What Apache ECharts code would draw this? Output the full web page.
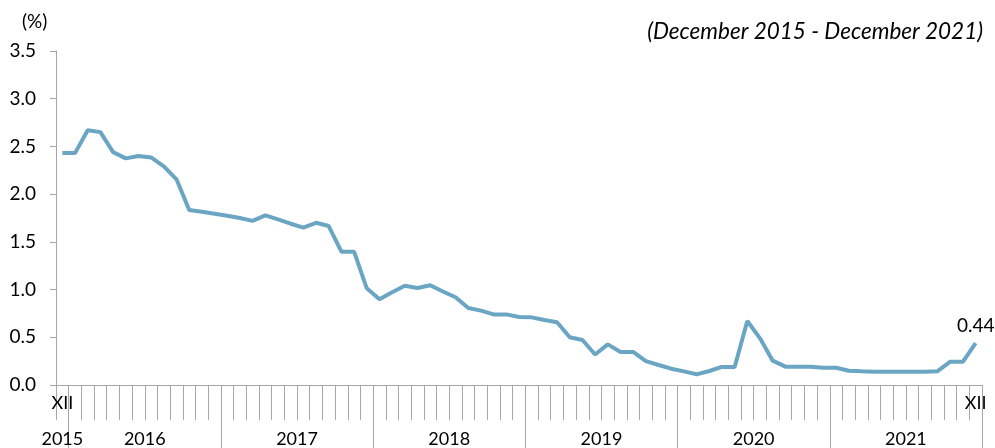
<!DOCTYPE html>
<html>
<head>
<meta charset="utf-8">
<script src="https://cdn.jsdelivr.net/npm/echarts@6/dist/echarts.min.js"></script>
<style>html,body{margin:0;padding:0;background:#fff}#chart{width:995px;height:448px}</style>
</head>
<body>
<div id="chart"></div>
<script>
// ---- data ----
const years = ['2015','2016','2017','2018','2019','2020','2021'];
const monthNames = ['I','II','III','IV','V','VI','VII','VIII','IX','X','XI','XII'];
// Monthly periods, December 2015 .. December 2021
const periods = ['2015-XII'];
for (let y = 1; y < years.length; y++) {
  for (let m = 0; m < 12; m++) periods.push(years[y] + '-' + monthNames[m]);
}
const values = [
  2.43,
  2.43, 2.67, 2.65, 2.44, 2.375, 2.40, 2.385, 2.29, 2.155, 1.834, 1.816, 1.795,
  1.774, 1.75, 1.72, 1.778, 1.736, 1.69, 1.65, 1.70, 1.666, 1.397, 1.397, 1.013,
  0.898, 0.971, 1.04, 1.016, 1.045, 0.98, 0.919, 0.807, 0.779, 0.74, 0.74, 0.713,
  0.709, 0.681, 0.657, 0.50, 0.472, 0.32, 0.426, 0.346, 0.346, 0.25, 0.21, 0.171,
  0.143, 0.112, 0.147, 0.189, 0.189, 0.671, 0.489, 0.255, 0.192, 0.192, 0.19, 0.181,
  0.181, 0.15, 0.143, 0.14, 0.14, 0.14, 0.14, 0.14, 0.145, 0.244, 0.244, 0.44
];
const yTicks = [0, 0.5, 1.0, 1.5, 2.0, 2.5, 3.0, 3.5];
const lastLabel = '0.44';
const titleText = '(December 2015 - December 2021)';
const unitText = '(%)';

// ---- chart ----
const FONT = 'Lato';
const AXIS = '#a6a6a6';
const chart = echarts.init(document.getElementById('chart'));
const seriesData = values.map((v, i) => i === values.length - 1
  ? { value: v, label: { show: true, formatter: lastLabel, position: 'top', distance: 8,
      color: '#000', fontFamily: FONT, fontSize: 19 } }
  : v);

function yearLabelIndex(i) { return i === 0 || (i >= 6 && (i - 6) % 12 === 0); }
function yearOf(i) { return i === 0 ? years[0] : years[1 + Math.floor((i - 1) / 12)]; }

chart.setOption({
  animation: false,
  title: [
    { text: titleText, right: 12, top: 20, padding: 0,
      textStyle: { fontFamily: FONT, fontStyle: 'italic', fontWeight: 'normal', fontSize: 22.5, color: '#000' } },
    { text: unitText, left: 22, top: 12, padding: 0,
      textStyle: { fontFamily: FONT, fontWeight: 'normal', fontSize: 19, color: '#000' } }
  ],
  grid: { left: 56, right: 13, top: 51, bottom: 63, containLabel: false },
  xAxis: [
    {
      type: 'category', data: periods, boundaryGap: true, position: 'bottom',
      axisLine: { show: true, lineStyle: { color: AXIS, width: 1 } },
      axisTick: { show: true, length: 35, interval: 0, lineStyle: { color: AXIS, width: 1 } },
      axisLabel: {
        interval: 0, margin: 9, color: '#000', fontFamily: FONT, fontSize: 18,
        formatter: (v, i) => (i === 0 || i === periods.length - 1) ? monthNames[11] : ''
      },
      splitLine: { show: false }
    },
    {
      type: 'category', data: periods, boundaryGap: true, position: 'bottom', offset: 0,
      axisLine: { show: false },
      axisTick: { show: true, length: 64, interval: (i) => i > 0 && (i - 1) % 12 === 0,
        lineStyle: { color: AXIS, width: 1 } },
      axisLabel: {
        interval: (i) => yearLabelIndex(i), margin: 45, color: '#000', fontFamily: FONT, fontSize: 18,
        formatter: (v, i) => i === 0 ? '{a|' + yearOf(i) + '}' : '{b|' + yearOf(i) + '}',
        rich: {
          a: { fontFamily: FONT, fontSize: 18, color: '#000' },
          b: { fontFamily: FONT, fontSize: 18, color: '#000', padding: [0, 0, 0, 12.7] }
        }
      },
      splitLine: { show: false }
    }
  ],
  yAxis: {
    type: 'value', min: yTicks[0], max: yTicks[yTicks.length - 1], interval: 0.5,
    axisLine: { show: true, lineStyle: { color: AXIS, width: 1 } },
    axisTick: { show: true, length: 6, lineStyle: { color: AXIS } },
    axisLabel: { margin: 20, color: '#000', fontFamily: FONT, fontSize: 19,
      formatter: (v) => v.toFixed(1) },
    splitLine: { show: false }
  },
  series: [{
    type: 'line', xAxisIndex: 0, data: seriesData,
    showSymbol: true, symbol: 'circle', symbolSize: 0,
    lineStyle: { color: '#6aa6c4', width: 4 },
    itemStyle: { color: '#6aa6c4' }
  }]
});
</script>
</body>
</html>
